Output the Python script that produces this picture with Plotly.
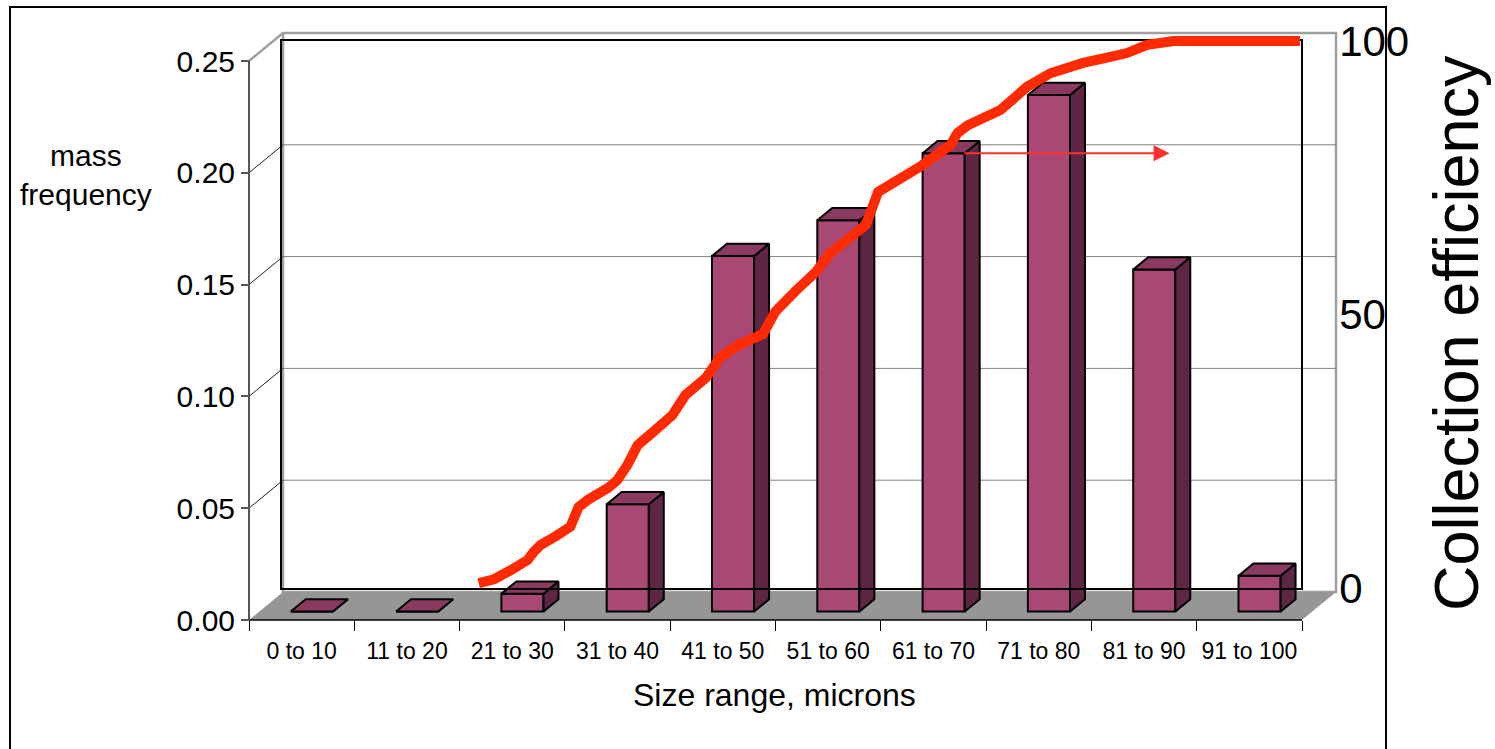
import plotly.graph_objects as go

# ---------------- data ----------------
categories = ["0 to 10", "11 to 20", "21 to 30", "31 to 40", "41 to 50",
              "51 to 60", "61 to 70", "71 to 80", "81 to 90", "91 to 100"]
mass_frequency = [0.0, 0.0, 0.008, 0.048, 0.159, 0.175, 0.205, 0.231, 0.153, 0.016]

particle_size = [19.3, 20.8, 22.5, 24.1, 24.7, 25.4, 26.9, 28.3, 29.1, 30.0,
                 32.0, 32.9, 33.9, 34.9, 36.4, 38.3, 39.6, 41.6, 43.0, 45.0,
                 47.2, 48.4, 50.4, 52.4, 53.8, 55.6, 57.3, 58.5, 60.5, 62.6,
                 65.6, 66.3, 67.3, 69.5, 70.5, 72.0, 73.1, 75.4, 78.6, 81.3,
                 82.9, 84.9, 87.5, 90.1, 95.0, 99.9]
collection_efficiency = [0.9, 1.6, 3.3, 5.1, 6.6, 7.9, 9.5, 11.2, 14.8, 16.1,
                         18.3, 19.7, 22.5, 26.1, 28.5, 31.6, 35.3, 38.4, 42.2, 44.6,
                         46.4, 50.5, 54.3, 57.8, 61.2, 63.6, 66.4, 72.4, 74.4, 77.0,
                         81.0, 83.2, 84.6, 86.3, 87.4, 89.8, 91.6, 94.1, 96.0, 97.1,
                         97.8, 99.3, 100.0, 100.0, 100.0, 100.0]

freq_ticks = [0.00, 0.05, 0.10, 0.15, 0.20, 0.25]
eff_ticks = [0, 50, 100]

# ---------------- layout geometry (pixels) ----------------
W, H = 1495, 749
AX_X0, AX_X1 = 249, 1302      # front category axis ends
AX_Y0, AX_Y1 = 620, 61        # front value axis: 0 and top
DEPTH_X, DEPTH_Y = 34, 28     # 3D depth offset of the back wall
IN_X0, IN_X1, IN_Y0, IN_Y1 = 282, 1301, 588, 41   # line plot area
FONT = "Liberation Sans, Arial, sans-serif"

FRONT_C, TOP_C, SIDE_C = "#A94874", "#8A3A60", "#5E2643"
FLOOR_C = "#969696"
WALL_C = "#A0A0A0"
LINE_C = "#FF2A00"

n = len(categories)
ymax = freq_ticks[-1]
xu = (AX_X1 - AX_X0) / n
yu = (AX_Y0 - AX_Y1) / ymax
Dx = DEPTH_X / xu
Dy = DEPTH_Y / yu
bar_w, bar_front, bar_depth = 0.4, 0.3, 0.44

# line scale (microns / percent)
lxu = (IN_X1 - IN_X0) / 100.0
lyu = (IN_Y0 - IN_Y1) / 100.0

fig = go.Figure()

# front faces of the columns
fig.add_trace(go.Bar(
    x=[i + 0.5 + bar_front * Dx for i in range(n)],
    y=mass_frequency,
    base=bar_front * Dy,
    width=bar_w,
    marker=dict(color=FRONT_C, line=dict(color="black", width=2)),
    hoverinfo="skip", showlegend=False,
))

# top and side faces
for i, v in enumerate(mass_frequency):
    x0 = i + 0.5 + bar_front * Dx - bar_w / 2
    x1 = x0 + bar_w
    yb = bar_front * Dy
    yt = v + yb
    dx, dy = bar_depth * Dx, bar_depth * Dy
    fig.add_trace(go.Scatter(
        x=[x1, x1, x1 + dx, x1 + dx, x1], y=[yb, yt, yt + dy, yb + dy, yb],
        mode="lines", fill="toself", fillcolor=SIDE_C,
        line=dict(color="black", width=2), hoverinfo="skip", showlegend=False))
    fig.add_trace(go.Scatter(
        x=[x0, x1, x1 + dx, x0 + dx, x0], y=[yt, yt, yt + dy, yt + dy, yt],
        mode="lines", fill="toself", fillcolor=TOP_C,
        line=dict(color="black", width=2), hoverinfo="skip", showlegend=False))

# dummy trace so the line plot-area box is drawn
fig.add_trace(go.Scatter(x=[0.5], y=[50], xaxis="x2", yaxis="y2", mode="markers",
                         marker=dict(opacity=0), hoverinfo="skip", showlegend=False))

# collection efficiency curve
fig.add_trace(go.Scatter(
    x=particle_size, y=collection_efficiency, xaxis="x3", yaxis="y3",
    mode="lines", line=dict(color=LINE_C, width=10),
    hoverinfo="skip", showlegend=False))

# ---------------- walls, gridlines and floor ----------------
shapes = []
shapes.append(dict(type="rect", xref="paper", yref="paper",
                   x0=10 / W, x1=1386 / W, y0=-0.1, y1=1 - 7 / H,
                   line=dict(color="black", width=2), fillcolor="rgba(0,0,0,0)", layer="below"))
shapes.append(dict(type="path", xref="x", yref="y", layer="below",
                   path=f"M {Dx},{Dy} L {Dx},{ymax + Dy} L {n + Dx},{ymax + Dy} L {n + Dx},{Dy} Z",
                   fillcolor="white", line=dict(color=WALL_C, width=2.5)))
shapes.append(dict(type="line", xref="x", yref="y", layer="below",
                   x0=0, y0=ymax, x1=Dx, y1=ymax + Dy, line=dict(color=WALL_C, width=2.5)))
for v in freq_ticks[1:-1]:
    shapes.append(dict(type="line", xref="x", yref="y", layer="below",
                       x0=0, y0=v, x1=Dx, y1=v + Dy, line=dict(color="#222222", width=1)))
    shapes.append(dict(type="line", xref="x", yref="y", layer="below",
                       x0=Dx, y0=v + Dy, x1=n + Dx, y1=v + Dy, line=dict(color="#808080", width=1)))
shapes.append(dict(type="path", xref="x", yref="y", layer="below",
                   path=f"M 0,0 L {n},0 L {n + Dx},{Dy} L {Dx},{Dy} Z",
                   fillcolor=FLOOR_C, line=dict(width=0)))
shapes.append(dict(type="line", xref="x", yref="y", layer="below",
                   x0=0, y0=0, x1=n, y1=0, line=dict(color="black", width=1.5)))
shapes.append(dict(type="line", xref="x", yref="y", layer="below",
                   x0=0, y0=0, x1=0, y1=ymax, line=dict(color="#555555", width=2)))

annotations = [
    dict(text="mass<br>frequency", x=86 / W, y=1 - 175 / H, xref="paper", yref="paper",
         xanchor="center", yanchor="middle",
         showarrow=False, font=dict(size=30, color="black", family=FONT), align="center"),
    dict(text="Size range, microns", x=774 / W, y=1 - 695 / H, xref="paper", yref="paper",
         xanchor="center", yanchor="middle",
         showarrow=False, font=dict(size=32, color="black", family=FONT)),
    dict(text="Collection efficiency", x=1456 / W, y=1 - 333 / H, xref="paper", yref="paper",
         xanchor="center", yanchor="middle",
         showarrow=False, textangle=-90, font=dict(size=63, color="black", family=FONT)),
    dict(text="", x=87.1, y=79.5, xref="x3", yref="y3", ax=66.8, ay=79.5,
         axref="x3", ayref="y3", showarrow=True, arrowhead=2, arrowsize=1.6,
         arrowwidth=2, arrowcolor="#FF3030"),
]

fig.update_layout(
    width=W, height=H, margin=dict(l=0, r=0, t=0, b=0),
    template="none",
    paper_bgcolor="white", plot_bgcolor="rgba(0,0,0,0)",
    font=dict(family=FONT, color="black"),
    showlegend=False,
    shapes=shapes, annotations=annotations,
    xaxis=dict(domain=[0, 1], range=[-AX_X0 / xu, (W - AX_X0) / xu],
               anchor="free", position=(H - AX_Y0) / H,
               tickvals=[i + 0.5 for i in range(n)], ticktext=categories,
               ticks="outside", ticklen=10, tickcolor="rgba(0,0,0,0)",
               minor=dict(tickvals=list(range(n + 1)), ticks="outside", ticklen=10,
                          tickcolor="black", tickwidth=1),
               tickfont=dict(size=23, family=FONT, color="black"),
               showline=False, showgrid=False, zeroline=False, fixedrange=True),
    yaxis=dict(domain=[0, 1], range=[(AX_Y0 - H) / yu, AX_Y0 / yu],
               anchor="free", position=AX_X0 / W,
               tickvals=freq_ticks, ticktext=[f"{v:.2f}" for v in freq_ticks],
               ticks="outside", ticklen=8, tickcolor="#555555", tickwidth=1.5,
               tickfont=dict(size=30, family=FONT, color="black"),
               showline=False, showgrid=False, zeroline=False, fixedrange=True),
    xaxis2=dict(domain=[IN_X0 / W, IN_X1 / W], range=[0, 1], anchor="y2",
                showline=True, mirror=True, linecolor="black", linewidth=1.5,
                showticklabels=False, ticks="", showgrid=False, zeroline=False),
    yaxis2=dict(domain=[(H - IN_Y0) / H, (H - IN_Y1) / H], range=[0, 100], anchor="x2",
                side="right", showline=True, mirror=True, linecolor="black", linewidth=1.5,
                tickvals=eff_ticks, ticks="", ticklabelstandoff=28,
                tickfont=dict(size=42, family=FONT, color="black"),
                showgrid=False, zeroline=False),
    xaxis3=dict(domain=[0, 1], range=[-IN_X0 / lxu, (W - IN_X0) / lxu],
                anchor="y3", visible=False),
    yaxis3=dict(domain=[0, 1], range=[(IN_Y0 - H) / lyu, IN_Y0 / lyu],
                anchor="x3", visible=False),
)

fig.write_html("out.html")
